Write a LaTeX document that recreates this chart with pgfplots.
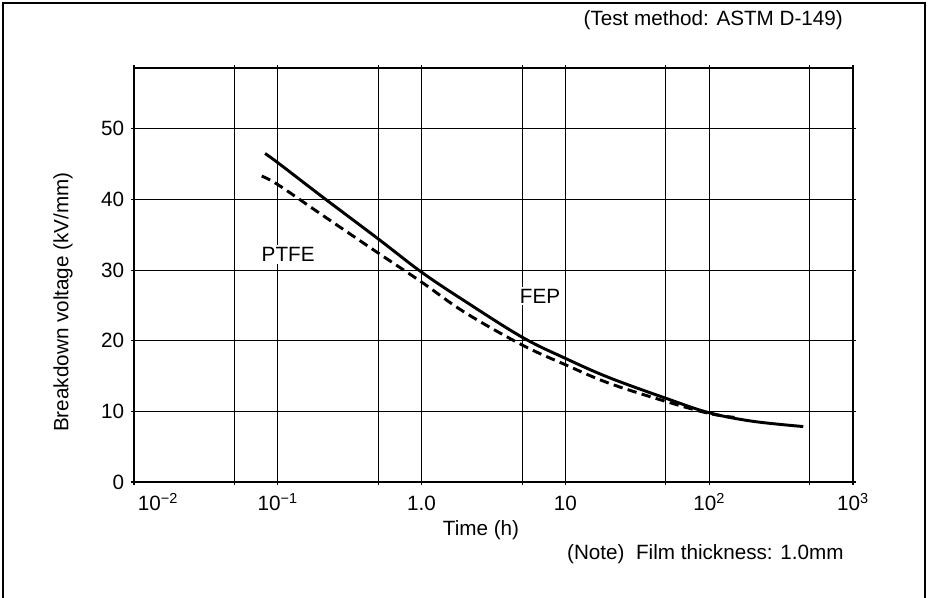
\documentclass[border=0pt]{standalone}
\usepackage{fontspec}
\setmainfont{Liberation Sans}
\usepackage{pgfplots}
\pgfplotsset{compat=1.18}
\begin{document}
\fontsize{15.5}{18}\selectfont
\begin{tikzpicture}
\useasboundingbox (0pt,0pt) rectangle (697.5pt,447.75pt);
\draw[line width=1.1pt] (2.25pt,-5pt) -- (2.25pt,445.5pt) -- (693.75pt,445.5pt) -- (693.75pt,-5pt);
\begin{axis}[
  at={(100.5pt,86.25pt)}, anchor=south west,
  scale only axis, width=539.25pt, height=310.5pt,
  xmode=log, xmin=0.01, xmax=1000, ymin=0, ymax=58.6,
  xtick={0.01,0.05,0.1,0.5,1,5,10,50,100,500,1000},
  xticklabels={\makebox[0pt][l]{\hspace{3pt}10\textsuperscript{−2}},,10\textsuperscript{−1},,1.0,,10,,10\textsuperscript{2},,10\textsuperscript{3}},
  ytick={0,10,20,30,40,50},
  /pgf/number format/assume math mode=true,
  grid=major,
  grid style={line width=0.8pt, black},
  axis line style={line width=1.1pt},
  tick style={line width=0.8pt, black},
  major tick length=4pt, tick align=center,
  xticklabel style={anchor=base, yshift=-19.5pt},
  every tick label/.append style={font=\fontsize{15.5}{18}\selectfont},
  clip=false,
]
\draw[line width=2.2pt] (rel axis cs:0,1) -- (rel axis cs:0,0) -- (rel axis cs:1,0);
\addplot[line width=2.2pt, black, smooth, tension=0.6] coordinates {
 (0.0815,46.5) (0.1,45.2) (0.2,40.5) (0.5,34.4) (1,29.7) (2,25.6)
 (5,20.5) (10,17.5) (20,14.8) (50,11.85) (100,9.8) (200,8.6) (451,7.85)
};
\addplot[line width=2.2pt, black, dash pattern=on 7pt off 4pt, smooth, tension=0.6] coordinates {
 (0.0773,43.3) (0.1,42.1) (0.2,37.9) (0.5,32.4) (1,28.3) (2,24.0)
 (5,19.4) (10,16.6) (20,14.0) (50,11.4) (100,9.7) (150,9.15)
};
\node[fill=white, inner sep=1.5pt] at (axis cs:0.118,32.2) {PTFE};
\node[fill=white, inner sep=1.5pt] at (axis cs:6.66,26.3) {FEP};
\end{axis}
\node[anchor=base east] at (637.5pt,428.25pt) {(Test method: ASTM D-149)};
\node[anchor=base] at (360.75pt,46.5pt) {Time (h)};
\node[anchor=base west] at (420pt,28.5pt) {(Note)\ \ Film thickness: 1.0mm};
\node[rotate=90] at (47.25pt,221.25pt) {Breakdown voltage (kV/mm)};
\end{tikzpicture}
\end{document}
